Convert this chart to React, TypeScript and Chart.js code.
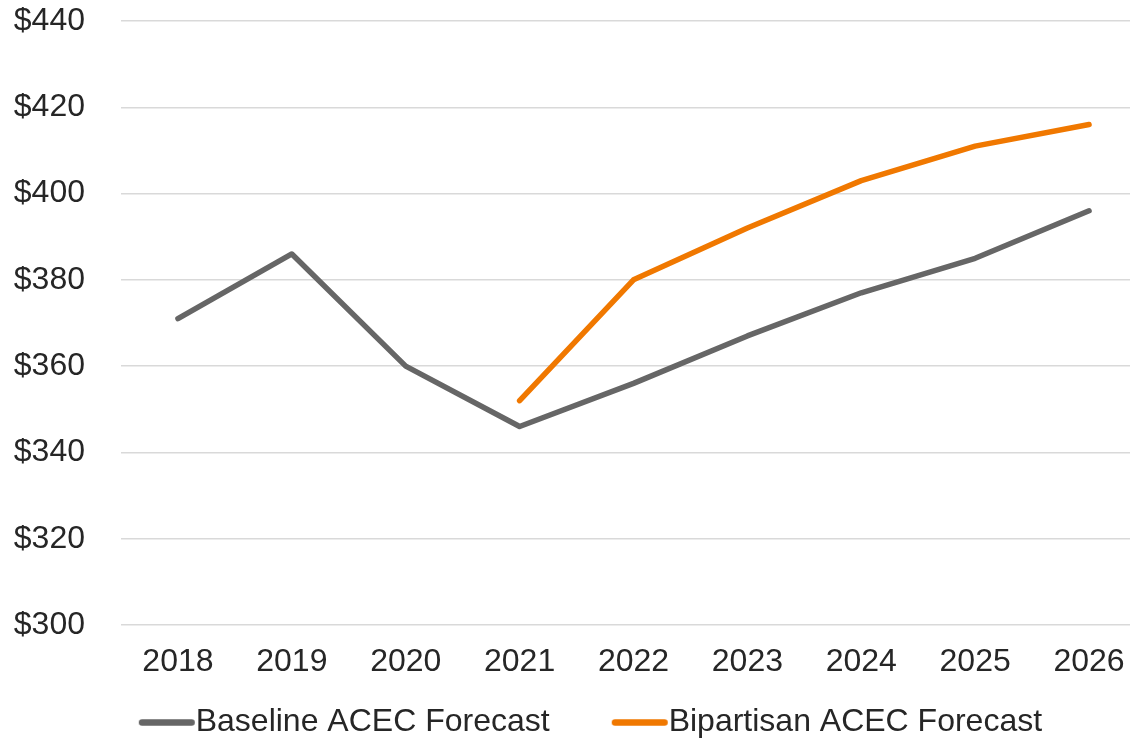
import React, { useEffect, useRef } from 'react';
import { Chart, registerables } from 'chart.js';

Chart.register(...registerables);

const categories = ['2018', '2019', '2020', '2021', '2022', '2023', '2024', '2025', '2026'];
const baselineValues = [371, 386, 360, 346, 356, 367, 377, 385, 396];
const bipartisanValues = [null, null, null, 352, 380, 392, 403, 411, 416];
const seriesNames = ['Baseline ACEC Forecast', 'Bipartisan ACEC Forecast'];
const seriesColors = ['#666666', '#f07800'];
const yMin = 300;
const yMax = 440;
const yStep = 20;

const FONT = "'Liberation Sans', Arial, sans-serif";
const TEXT = '#262626';
const LEGEND_BOX = 75.8;
const LEGEND_PAD = 27.2;
const MARKER_W = Math.round(LEGEND_BOX + 32);

function makeMarker(color: string) {
  const c = document.createElement('canvas');
  c.width = MARKER_W;
  c.height = 14;
  const g = c.getContext('2d')!;
  g.strokeStyle = color;
  g.lineWidth = 6.5;
  g.lineCap = 'round';
  g.beginPath();
  g.moveTo(MARKER_W - 57 + 3.25, 7.5);
  g.lineTo(MARKER_W - 1 - 3.25, 7.5);
  g.stroke();
  return c;
}

export default function App() {
  const ref = useRef<HTMLCanvasElement | null>(null);

  useEffect(() => {
    if (!ref.current) return;
    const chart = new Chart(ref.current, {
      type: 'line',
      data: {
        labels: categories,
        datasets: [
          {
            label: seriesNames[0],
            data: baselineValues,
            borderColor: seriesColors[0],
            backgroundColor: seriesColors[0],
            borderWidth: 5.5,
            borderCapStyle: 'round',
            borderJoinStyle: 'round',
            pointRadius: 0,
            pointHoverRadius: 0,
            pointStyle: makeMarker(seriesColors[0]) as any,
            tension: 0,
          },
          {
            label: seriesNames[1],
            data: bipartisanValues,
            borderColor: seriesColors[1],
            backgroundColor: seriesColors[1],
            borderWidth: 5.5,
            borderCapStyle: 'round',
            borderJoinStyle: 'round',
            pointRadius: 0,
            pointHoverRadius: 0,
            pointStyle: makeMarker(seriesColors[1]) as any,
            tension: 0,
          },
        ],
      },
      options: {
        responsive: false,
        animation: false,
        layout: { padding: { left: 0, top: 21, right: 0, bottom: 0 } },
        plugins: {
          tooltip: { enabled: false },
          legend: {
            position: 'bottom',
            align: 'center',
            labels: {
              usePointStyle: true,
              pointStyleWidth: LEGEND_BOX,
              padding: LEGEND_PAD,
              color: TEXT,
              font: { family: FONT, size: 32 },
            },
          },
        },
        scales: {
          x: {
            offset: true,
            grid: { display: false, drawTicks: false },
            border: { display: false },
            ticks: {
              color: TEXT,
              font: { family: FONT, size: 32 },
              padding: 18,
              maxRotation: 0,
              autoSkip: false,
            },
            afterFit: (scale: any) => {
              scale.height = 748 - (42 + LEGEND_PAD) - 625;
            },
          },
          y: {
            min: yMin,
            max: yMax,
            grid: {
              color: '#d9d9d9',
              lineWidth: 1.5,
              drawTicks: true,
              tickLength: 36,
              tickColor: 'rgba(0,0,0,0)',
            },
            border: { display: false },
            ticks: {
              stepSize: yStep,
              color: TEXT,
              font: { family: FONT, size: 32 },
              padding: 0,
              callback: (v: any) => '$' + v,
            },
            afterFit: (scale: any) => {
              scale.width = 121;
            },
          },
        },
      },
    });
    return () => chart.destroy();
  }, []);

  return (
    <div
      style={{
        position: 'fixed',
        left: 0,
        top: 0,
        width: 1130,
        height: 739,
        overflow: 'hidden',
        background: '#ffffff',
      }}
    >
      <canvas ref={ref} width={1146} height={748} style={{ display: 'block' }} />
    </div>
  );
}
